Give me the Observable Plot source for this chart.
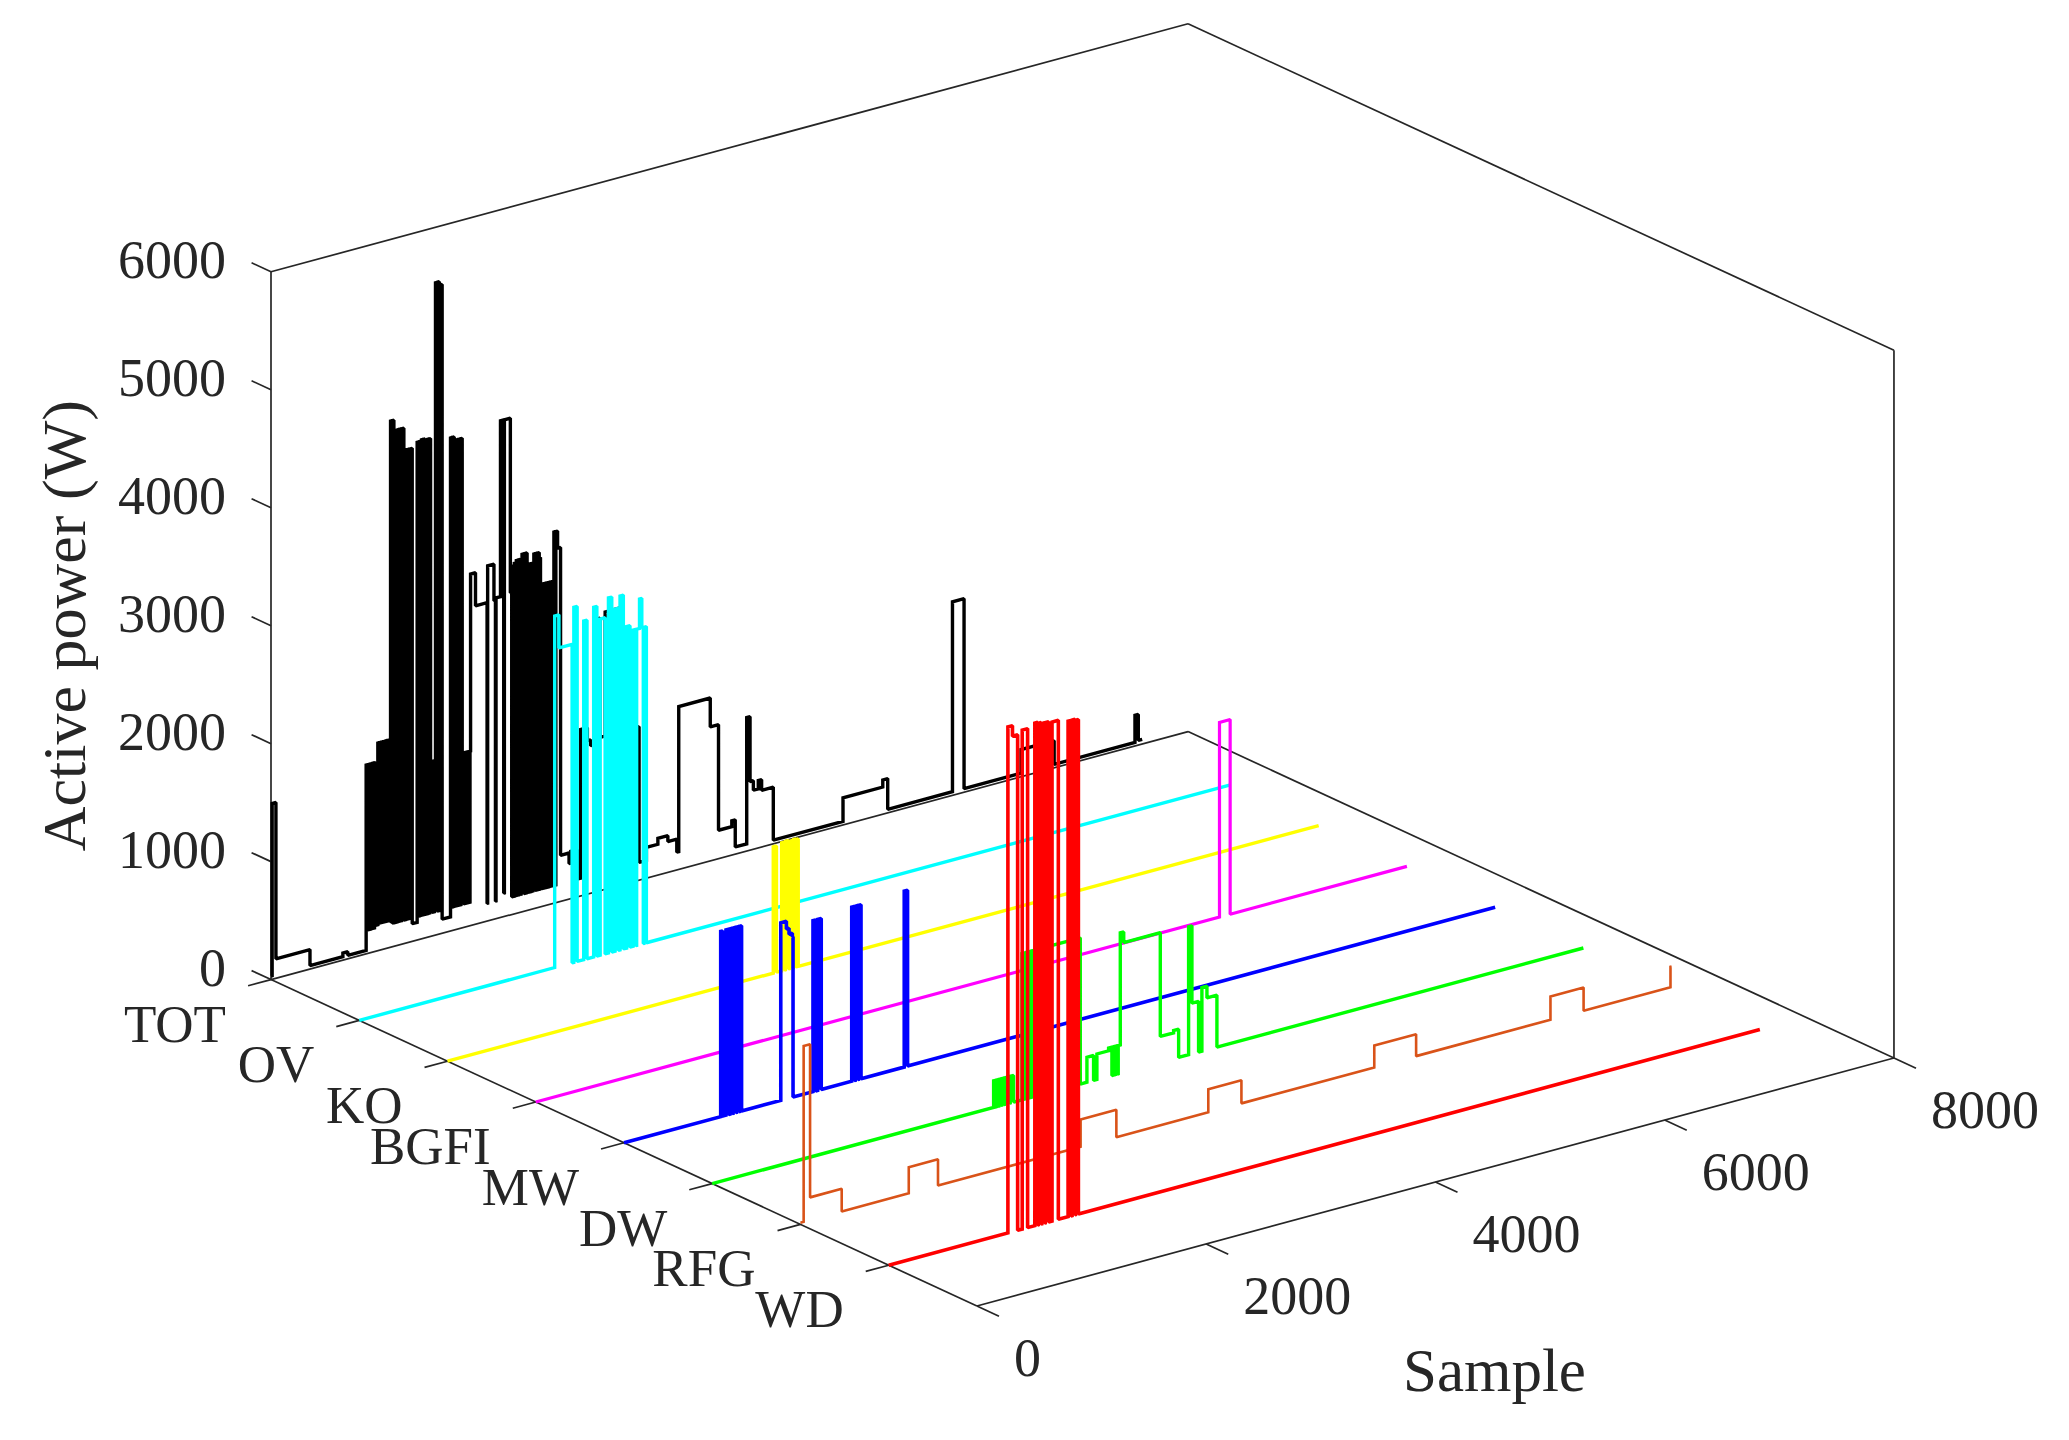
<!DOCTYPE html>
<html>
<head>
<meta charset="utf-8">
<script src="https://cdn.jsdelivr.net/npm/d3@7"></script>
<script src="https://cdn.jsdelivr.net/npm/@observablehq/plot@0.6"></script>
<style>
  html, body { margin: 0; padding: 0; background: #fff; }
  #chart svg { display: block; }
</style>
</head>
<body>
<div id="chart"></div>
<script>
// ---------- data ----------
const seriesNames  = ["TOT", "OV", "KO", "BGFI", "MW", "DW", "RFG", "WD"];
const seriesColors = ["#000000", "#00FFFF", "#FFFF00", "#FF00FF", "#0000FF", "#00FF00", "#D95319", "#FF0000"];
const sampleTicks  = [0, 2000, 4000, 6000, 8000];
const powerTicks   = [0, 1000, 2000, 3000, 4000, 5000, 6000];
const sampleEnd    = 7600;

// each series: [sample where a level starts, active power in W]
const totSteps = [
  [0,30],[10,1490],[43,165],[340,30],[627,60],[670,30],
  [830,1600],[845,200],[850,1600],[862,200],[867,1600],[880,200],[885,1600],[898,200],[903,1600],[912,220],
  [932,1760],[945,230],[950,1760],[962,230],[967,1760],[980,230],[985,1760],[998,230],[1003,1760],[1015,230],[1020,1760],[1037,220],
  [1043,4460],[1058,200],[1063,4460],[1072,200],[1101,4370],[1115,200],[1120,4370],[1135,200],[1140,4370],[1159,200],
  [1173,4180],[1187,200],[1192,4180],[1205,200],[1210,4180],[1232,150],
  [1275,4220],[1290,200],[1295,4220],[1308,200],[1313,4230],[1326,200],[1331,4230],[1344,200],[1349,4220],[1362,200],
  [1367,4220],[1380,200],[1385,4220],[1392,1480],[1405,200],[1410,1480],[1422,200],[1427,1480],
  [1435,5530],[1450,200],[1455,5530],[1468,200],[1473,5500],[1493,120],
  [1566,4180],[1580,200],[1585,4180],[1598,200],[1603,4150],[1616,200],[1621,4150],[1634,200],[1639,4150],[1652,200],
  [1657,4150],[1668,1480],[1680,200],[1685,1480],[1697,200],[1702,1480],[1714,200],[1719,1480],[1731,200],[1736,1480],
  [1741,2980],[1784,2700],[1885,150],[1890,3010],[1945,2700],[1958,150],[1963,2720],[2002,4210],[2030,200],[2036,4210],
  [2088,2730],[2100,150],[2105,2950],[2118,150],[2123,2970],[2135,150],[2140,2990],[2155,150],[2160,2990],[2176,150],
  [2182,2850],[2190,3030],[2205,150],[2210,3030],[2222,150],[2227,3030],[2234,2880],[2242,150],[2249,2930],[2262,150],
  [2267,2930],[2280,150],[2285,2930],[2293,3005],[2305,150],[2310,3005],[2322,150],[2327,3005],[2340,150],[2345,2960],
  [2351,2730],[2362,150],[2367,2730],[2380,150],[2385,2730],[2398,150],[2403,2730],[2416,150],[2421,2730],[2434,150],
  [2439,2730],[2452,150],[2457,2730],[2468,3145],[2480,150],[2485,3145],[2500,3000],[2526,390],[2600,300],[2615,400],
  [2670,150],[2700,1410],[2760,1300],[2788,1250],[2830,1300],[2842,2310],[2870,1300],[2915,2350],
  [3060,1300],[3211,150],[3275,260],[3375,310],[3462,260],[3540,150],[3557,1380],[3832,1135],
  [3904,240],[4020,290],[4050,60],[4150,1130],[4179,580],[4208,500],[4251,570],[4280,480],
  [4382,30],[4990,230],[5337,290],[5380,30],[5945,1640],[6046,30],[6543,230],[6832,30],
  [7537,260],[7566,40]
];
const ovSteps = [
  [0,0],[1705,2980],[1742,2700],[1857,0],[1872,3010],[1901,0],[1958,2870],[1987,0],[2045,2965],
  [2073,0],[2102,2850],[2145,0],[2174,3010],[2203,0],[2232,2900],[2260,0],[2275,3000],[2304,0],
  [2333,2725],[2362,0],[2390,2680],[2412,0],[2420,2680],[2445,2930],[2465,2680],[2478,0],
  [2484,2680],[2505,0]
];
const koSteps = [
  [0,0],[2842,1070],[2870,0],[2915,1085],[2940,0],[2948,1090],[2975,0],[2983,1080],[3010,0],
  [3018,1085],[3040,0],[3046,1080],[3060,0]
];
const bgfiSteps = [[0,0],[5965,1650],[6058,0]];
const mwSteps = [
  [0,0],[844,1570],[861,0],[890,1570],[913,0],[925,1570],[945,0],[952,1570],[975,0],[982,1570],
  [1005,0],[1010,1570],[1026,0],[1368,1505],[1417,1440],[1440,1390],[1469,1360],[1475,0],
  [1649,1450],[1672,0],[1690,1450],[1721,0],[1987,1475],[2010,0],[2017,1475],[2040,0],
  [2046,1475],[2068,0],[2445,1490],[2474,0]
];
const dwSteps = [
  [0,0],[2455,226],[2470,0],[2478,226],[2495,0],[2502,226],[2520,0],[2526,226],[2545,0],
  [2550,226],[2570,0],[2575,226],[2595,0],[2600,226],[2629,0],[2702,1240],[2715,0],[2722,1240],
  [2735,0],[2742,1240],[2755,0],[2762,1240],[2775,0],[2782,1240],[2795,0],[2800,1240],[2815,0],
  [2820,1240],[3211,0],[3269,212],[3327,0],[3356,217],[3458,240],[3487,0],[3495,240],[3510,0],
  [3518,240],[3535,0],[3542,240],[3560,1190],[3590,1100],[3909,220],[4025,240],[4069,0],
  [4156,1085],[4185,430],[4243,0],[4272,540],[4316,440],[4403,0]
];
const rfgSteps = [
  [0,15],[28,1505],[84,207],[360,15],[945,237],[1200,15],[2444,247],[2756,15],[3558,210],
  [3847,15],[5006,200],[5371,15],[6543,213],[6832,15],[7590,190]
];
const wdSteps = [
  [0,0],[1040,4290],[1080,4200],[1125,0],[1165,4230],[1212,0],[1275,4260],[1300,0],[1306,4250],
  [1330,0],[1336,4240],[1360,0],[1366,4240],[1395,0],[1425,4230],[1480,0],[1565,4200],[1590,0],
  [1600,4200],[1625,0],[1630,4190],[1655,0]
];
const seriesSteps = [totSteps, ovSteps, koSteps, bgfiSteps, mwSteps, dwSteps, rfgSteps, wdSteps];
const seriesWidths = [3.4, 3.4, 3.4, 3.2, 3.6, 3.4, 2.6, 3.6];

// ---------- layout / view (orthographic 3-D projection) ----------
const W = 2069, H = 1440;
const ORIGIN = [270.5, 979.1];               // where sample 0 / TOT / 0 W lands
const VIEW = {ax: 0.11463, ay: 0.0310, bx: 88.24, by: 40.8, cz: 0.11797};
const FONT = "'Liberation Serif', 'Times New Roman', 'DejaVu Serif', serif";
const INK = "#262626";

function proj(s, k, p) {
  return {u: s * VIEW.ax + k * VIEW.bx, v: s * VIEW.ay - k * VIEW.by + p * VIEW.cz};
}
function stepPoints(steps, k) {
  const pts = [];
  let prev = steps[0][1];
  for (const [s, p] of steps) {
    pts.push(proj(s, k, prev));
    pts.push(proj(s, k, p));
    prev = p;
  }
  pts.push(proj(sampleEnd, k, prev));
  return pts;
}

const sMax = d3.max(sampleTicks), pMax = d3.max(powerTicks), kMax = seriesNames.length;
function edge(a, b) { const A = proj(...a), B = proj(...b); return {x1: A.u, y1: A.v, x2: B.u, y2: B.v}; }
const boxEdges = [
  edge([0,0,0],[0,0,pMax]), edge([0,0,pMax],[sMax,0,pMax]), edge([sMax,0,pMax],[sMax,kMax,pMax]),
  edge([sMax,kMax,pMax],[sMax,kMax,0]), edge([0,kMax,0],[sMax,kMax,0]), edge([0,0,0],[0,kMax,0]),
  edge([sMax,0,0],[sMax,kMax,0]), edge([0,0,0],[sMax,0,0])
];
const tickMarks = [
  ...powerTicks.map(p => edge([0,0,p],[0,-0.22,p])),
  ...seriesNames.map((n,k) => edge([0,k,0],[-200,k,0])),
  ...sampleTicks.map(s => edge([s,kMax,0],[s,kMax+0.25,0]))
];
const powerLabels  = powerTicks.map(p => ({...proj(0,0,p), t: String(p)}));
const seriesLabels = seriesNames.map((n,k) => ({...proj(0,k,0), t: n}));
const sampleLabels = sampleTicks.map(s => ({...proj(s,kMax,0), t: String(s)}));
const zTitle = [{...proj(0,0,pMax/2), t: "Active power (W)"}];
const xTitle = [{...proj(sMax/2,kMax,0), t: "Sample"}];

const lineMarks = seriesSteps.map((st, k) =>
  Plot.line(stepPoints(st, k), {x: "u", y: "v", stroke: seriesColors[k], strokeWidth: seriesWidths[k],
    strokeLinejoin: "miter", strokeMiterlimit: 1.5, strokeLinecap: "butt"}));

const chart = Plot.plot({
  width: W, height: H, margin: 0,
  x: {domain: [-ORIGIN[0], W - ORIGIN[0]], range: [0, W], axis: null},
  y: {domain: [ORIGIN[1] - H, ORIGIN[1]], range: [H, 0], axis: null},
  style: {background: "#fff", fontFamily: FONT, color: INK},
  marks: [
    Plot.link(boxEdges, {x1: "x1", y1: "y1", x2: "x2", y2: "y2", stroke: INK, strokeWidth: 1.7}),
    Plot.link(tickMarks, {x1: "x1", y1: "y1", x2: "x2", y2: "y2", stroke: INK, strokeWidth: 1.7}),
    ...lineMarks,
    Plot.text(powerLabels, {x: "u", y: "v", text: "t", textAnchor: "end", dx: -45, dy: -11,
      fontSize: 54, fontFamily: FONT, fill: INK}),
    Plot.text(seriesLabels, {x: "u", y: "v", text: "t", textAnchor: "end", dx: -45, dy: 45,
      fontSize: 53, fontFamily: FONT, fill: INK}),
    Plot.text(sampleLabels, {x: "u", y: "v", text: "t", textAnchor: "start", dx: 37, dy: 53,
      fontSize: 54, fontFamily: FONT, fill: INK}),
    Plot.text(zTitle, {x: "u", y: "v", text: "t", rotate: -90, dx: -206, dy: 0,
      fontSize: 62, fontFamily: FONT, fill: INK}),
    Plot.text(xTitle, {x: "u", y: "v", text: "t", dx: 59, dy: 189,
      fontSize: 61, fontFamily: FONT, fill: INK})
  ]
});
document.getElementById("chart").appendChild(chart);
</script>
</body>
</html>
